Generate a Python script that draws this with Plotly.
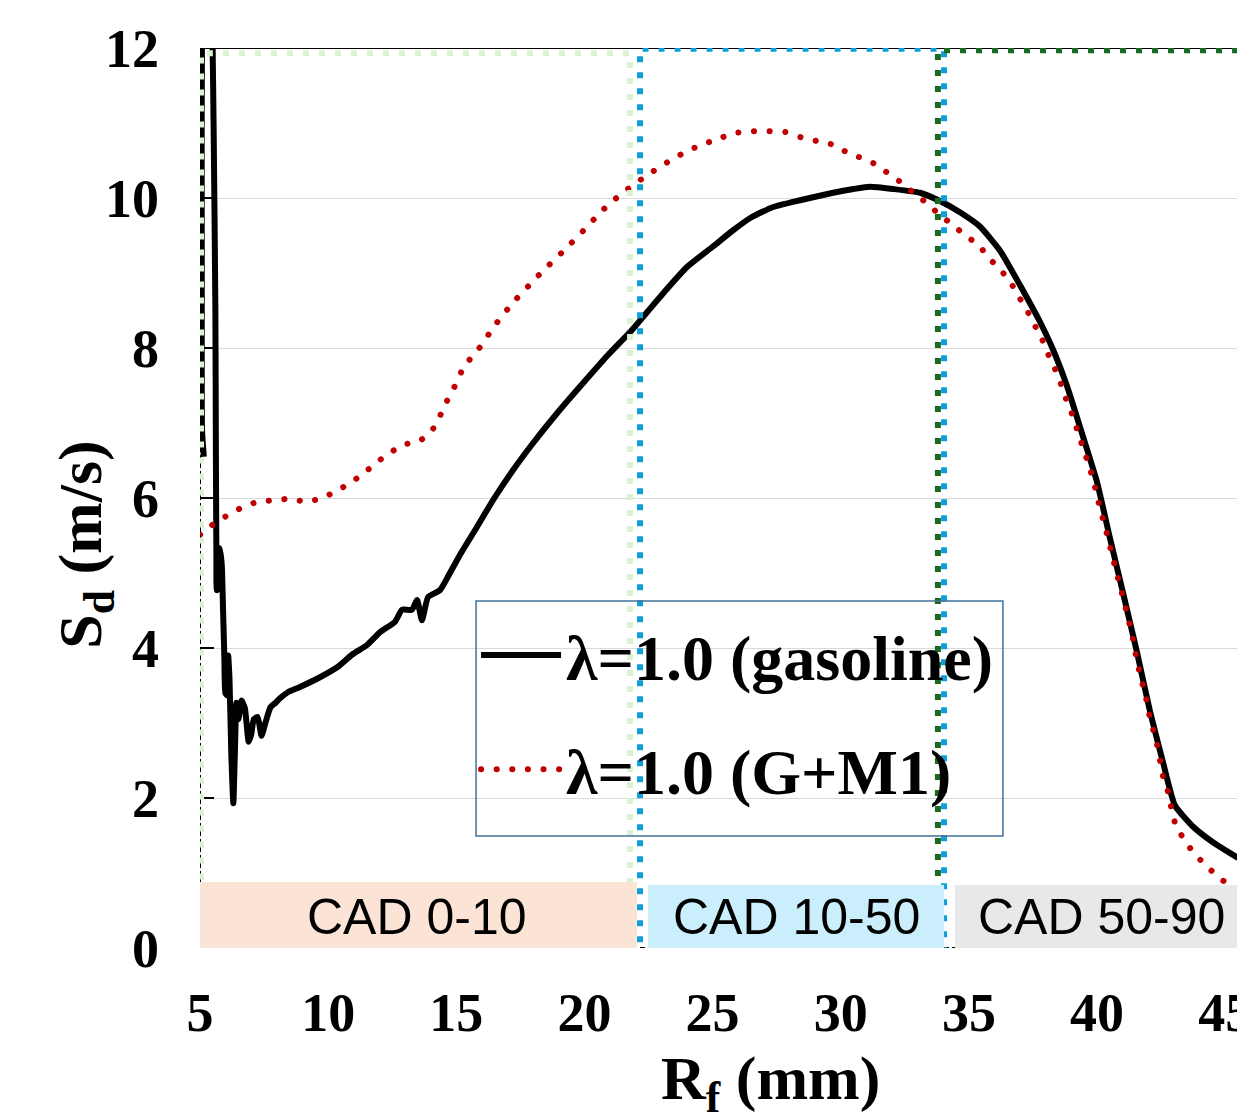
import plotly.graph_objects as go

# ---------------- data ----------------
black_x = [5.15, 5.08, 5.07, 5.08, 5.2, 5.45, 5.53, 5.6, 5.62, 5.64, 5.66, 5.72, 5.78, 5.85, 5.9, 5.95,
           5.99, 6.05, 6.1, 6.15, 6.22, 6.3, 6.36, 6.42, 6.5, 6.62, 6.75, 6.9, 7.0, 7.1, 7.25, 7.4,
           7.55, 7.75, 7.95, 8.12, 8.43, 8.9, 9.68, 10.38, 10.93, 11.52, 12.02, 12.61, 12.88, 13.27,
           13.47, 13.66, 13.9, 14.36, 14.64, 15.14, 15.8, 16.43, 17.21, 17.99, 18.93, 19.94, 20.9,
           21.8, 22.5, 23.2, 24.0, 25.0, 25.8, 26.5, 27.36, 28.41, 29.7, 30.5, 31.14, 32.04, 33.09,
           33.87, 34.65, 35.43, 36.21, 36.99, 37.77, 38.28, 38.83, 39.45, 40.0, 40.5, 41.01, 41.56,
           42.07, 42.57, 43.04, 43.74, 44.52, 45.5]
black_y = [6.55, 6.9, 9.0, 12.6, 13.4, 12.6, 11.0, 8.5, 6.6, 5.2, 4.77, 4.8, 5.33, 5.1, 4.5, 3.88,
           3.4, 3.37, 3.9, 3.6, 2.6, 1.93, 2.6, 3.27, 3.05, 3.3, 3.2, 2.75, 2.85, 3.05, 3.08, 2.83,
           3.0, 3.21, 3.27, 3.33, 3.41, 3.48, 3.61, 3.75, 3.91, 4.04, 4.21, 4.35, 4.51, 4.51,
           4.64, 4.37, 4.68, 4.77, 4.93, 5.24, 5.61, 5.97, 6.37, 6.73, 7.13, 7.53, 7.9,
           8.22, 8.5, 8.78, 9.08, 9.35, 9.57, 9.74, 9.88, 9.97, 10.07, 10.12, 10.15, 10.12, 10.07,
           9.96, 9.81, 9.62, 9.30, 8.84, 8.35, 7.98, 7.49, 6.82, 6.21, 5.47, 4.74, 3.94,
           3.15, 2.48, 1.90, 1.62, 1.41, 1.2]

red_x = [5.0, 5.08, 5.59, 6.13, 6.68, 7.26, 7.89, 8.51, 9.14, 9.76, 10.31, 10.85, 11.36, 11.87,
         12.37, 12.92, 13.51, 14.01, 14.33, 14.6, 14.91, 15.3, 15.9, 16.5, 17.2, 18.3, 19.2, 20.0,
         20.6, 21.0, 21.5, 22.01, 22.52, 23.06, 23.6, 24.16, 24.74, 25.37, 25.95, 26.58, 27.2,
         27.83, 28.45, 29.07, 29.7, 30.24, 30.83, 31.41, 31.92, 32.43, 32.9, 33.4, 33.87, 34.38,
         34.85, 35.36, 35.78, 36.21, 36.6, 36.92, 37.27, 37.54, 37.85, 38.09, 38.36, 38.59, 38.79,
         39.02, 39.22, 39.41, 39.61, 39.80, 39.96, 40.11, 40.27, 40.43, 40.58, 40.74, 40.90,
         41.05, 41.21, 41.36, 41.48, 41.60, 41.75, 41.91, 42.03, 42.18, 42.34, 42.46, 42.57,
         42.77, 42.89, 43.04, 43.35, 43.70, 44.13, 44.56, 45.03, 45.46]
red_y = [5.51, 5.53, 5.67, 5.78, 5.88, 5.95, 5.97, 5.99, 5.95, 6.0, 6.09, 6.2, 6.32, 6.47,
         6.59, 6.71, 6.75, 6.88, 7.07, 7.27, 7.47, 7.75, 8.0, 8.3, 8.6, 9.0, 9.3, 9.58,
         9.8, 9.93, 10.07, 10.2, 10.32, 10.44, 10.55, 10.65, 10.73, 10.81, 10.87, 10.89, 10.89,
         10.88, 10.81, 10.76, 10.71, 10.61, 10.53, 10.44, 10.31, 10.19, 10.05, 9.92, 9.77, 9.64,
         9.5, 9.38, 9.2, 9.05, 8.89, 8.70, 8.50, 8.32, 8.12, 7.92, 7.72, 7.52, 7.32,
         7.12, 6.91, 6.71, 6.51, 6.30, 6.09, 5.87, 5.67, 5.46, 5.25, 5.03, 4.82,
         4.62, 4.40, 4.19, 3.96, 3.76, 3.55, 3.33, 3.12, 2.92, 2.71, 2.49, 2.29,
         2.08, 1.88, 1.67, 1.47, 1.30, 1.14, 1.0, 0.87, 0.80]

series_names = ["λ=1.0 (gasoline)", "λ=1.0 (G+M1)"]
x_ticks = [5, 10, 15, 20, 25, 30, 35, 40, 45]
y_ticks = [0, 2, 4, 6, 8, 10, 12]

# CAD phase regions (R_f in mm)
region_labels = ["CAD 0-10", "CAD 10-50", "CAD 50-90"]
region_frame_x0 = [5.04, 22.17, 33.79]
region_frame_x1 = [21.78, 34.03, 47.0]
region_box_x0 = [4.84, 22.48, 34.46]
region_box_x1 = [22.05, 34.03, 45.6]

X_RANGE = [5, 45.46]
Y_RANGE = [0, 12]

SERIF = "Liberation Serif"
SANS = "Liberation Sans"
RED = "#C00000"

fig = go.Figure()
fig.add_trace(go.Scatter(x=black_x, y=black_y, mode="lines", name=series_names[0],
                         legendgroup="a",
                         line=dict(color="black", width=6, shape="spline", smoothing=0.5)))
fig.add_trace(go.Scatter(x=red_x, y=red_y, mode="lines", name=series_names[1],
                         legendgroup="b",
                         line=dict(color=RED, width=6, dash="6px,9px", shape="spline",
                                   smoothing=0.5)))

shapes = []
# plot frame
shapes.append(dict(type="line", xref="paper", yref="y", x0=0, x1=1, y0=12, y1=12,
                   line=dict(color="black", width=2), layer="above"))
shapes.append(dict(type="line", xref="x", yref="y", x0=5, x1=5, y0=0, y1=12,
                   line=dict(color="black", width=2, dash="5px,3px"), layer="above"))
shapes.append(dict(type="line", xref="paper", yref="y", x0=0, x1=1, y0=0, y1=0,
                   line=dict(color="black", width=2, dash="5px,3px"), layer="above"))

frame_colors = ["#D9F2D0", "#0F9ED5", "#196B24"]
frame_y0 = [-0.04, -0.07, -0.07]
frame_y1 = [11.93, 11.99, 11.97]
for i in range(3):
    shapes.append(dict(type="rect", xref="x", yref="y",
                       x0=region_frame_x0[i], x1=region_frame_x1[i],
                       y0=frame_y0[i], y1=frame_y1[i],
                       line=dict(color=frame_colors[i], width=6, dash="6px,10px"),
                       fillcolor="rgba(0,0,0,0)", layer="above"))

box_fill = ["#FBE3D6", "#CAEEFB", "#E8E8E8"]
box_top = [0.88, 0.84, 0.84]
for i in range(3):
    shapes.append(dict(type="rect", xref="x", yref="y",
                       x0=region_box_x0[i], x1=region_box_x1[i], y0=0, y1=box_top[i],
                       line=dict(width=0), fillcolor=box_fill[i], layer="above"))

# legend frame
shapes.append(dict(type="rect", xref="paper", yref="paper",
                   x0=0.2662, x1=0.7743, y0=0.1244, y1=0.3856,
                   line=dict(color="#41719C", width=1.5),
                   fillcolor="rgba(0,0,0,0)", layer="above"))

annotations = []
label_x = [13.47, 28.29, 40.19]
for i in range(3):
    annotations.append(dict(x=label_x[i], y=0.41, xref="x", yref="y", text=region_labels[i],
                            showarrow=False, font=dict(family=SANS, size=50, color="black"),
                            xanchor="center", yanchor="middle"))

annotations.append(dict(x=-0.111, y=0.448, xref="paper", yref="paper",
                        text="S<sub>d</sub> (m/s)", textangle=-90, showarrow=False,
                        font=dict(family=SERIF, size=62, color="black", weight="bold"),
                        xanchor="center", yanchor="middle"))
annotations.append(dict(x=0.55, y=-0.149, xref="paper", yref="paper",
                        text="R<sub>f</sub> (mm)", showarrow=False,
                        font=dict(family=SERIF, size=62, color="black", weight="bold"),
                        xanchor="center", yanchor="middle"))

fig.update_layout(
    width=1237, height=1116,
    margin=dict(l=200, r=0, t=48, b=168, autoexpand=False),
    plot_bgcolor="white", paper_bgcolor="white",
    shapes=shapes, annotations=annotations,
    showlegend=True,
    legend=dict(x=0.2662, y=0.3789, xanchor="left", yanchor="top",
                bgcolor="rgba(255,255,255,0)", borderwidth=0,
                font=dict(family=SERIF, size=64, color="black", weight="bold"),
                itemwidth=80, traceorder="grouped", tracegroupgap=28),
    xaxis=dict(range=X_RANGE, tickmode="array", tickvals=x_ticks,
               ticktext=[str(v) for v in x_ticks], automargin=False,
               ticklabeloverflow="allow",
               showgrid=False, zeroline=False, showline=False, ticks="",
               ticklabelstandoff=28,
               tickfont=dict(family=SERIF, size=54, color="black", weight="bold")),
    yaxis=dict(range=Y_RANGE, tickmode="array", tickvals=y_ticks,
               ticktext=[str(v) for v in y_ticks], automargin=False,
               showgrid=True, gridcolor="#D9D9D9", gridwidth=1,
               zeroline=False, showline=False,
               ticks="inside", ticklen=14, tickwidth=2, tickcolor="black",
               ticklabelstandoff=40,
               tickfont=dict(family=SERIF, size=54, color="black", weight="bold")),
)

post = """
document.documentElement.style.margin = '0';
document.documentElement.style.overflow = 'hidden';
document.body.style.margin = '0';
document.body.style.padding = '0';
document.body.style.overflow = 'hidden';
var gd = document.getElementById('{plot_id}');
function roundDots(){
  gd.querySelectorAll('path.js-line').forEach(function(p){
    if (p.style.stroke === 'rgb(192, 0, 0)') {
      p.style.setProperty('stroke-linecap', 'round');
      p.style.setProperty('stroke-dasharray', '0.1px, 15.5px');
    }
  });
}
roundDots();
if (gd.on) { gd.on('plotly_afterplot', roundDots); }
"""

fig.write_html("out.html", post_script=post, config={"displayModeBar": False})
